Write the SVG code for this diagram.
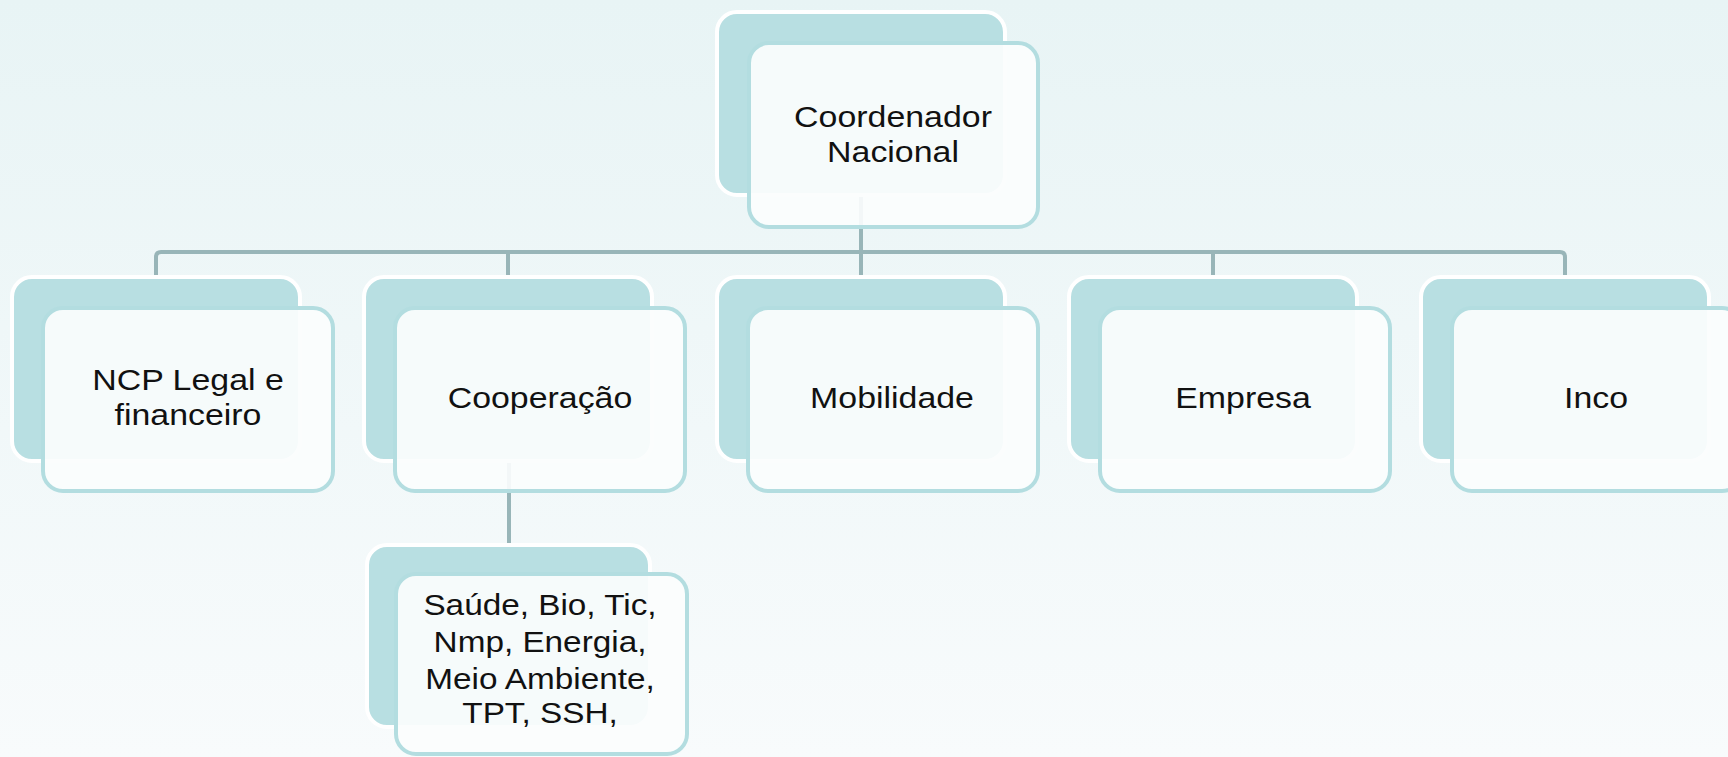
<svg xmlns="http://www.w3.org/2000/svg" width="1728" height="757" viewBox="0 0 1728 757">
<defs>
<linearGradient id="bg" x1="0" y1="0" x2="0" y2="1">
<stop offset="0" stop-color="#e8f4f5"/>
<stop offset="1" stop-color="#f8fbfc"/>
</linearGradient>
<style>
.back{fill:#b8dfe2;stroke:#ffffff;stroke-width:4}
.front{fill:#fbfdfd;fill-opacity:0.92;stroke:#b3dde0;stroke-width:4}
.conn{fill:none;stroke:#98b5b8;stroke-width:4}
.lbl{font-family:"Liberation Sans",Arial,sans-serif;font-size:30px;fill:#111111;text-anchor:middle}
</style>
</defs>
<rect x="0" y="0" width="1728" height="757" fill="url(#bg)"/>
<g id="connectors">
<path class="conn" d="M861,195 V252"/>
<path class="conn" d="M156,277 V257 Q156,252 161,252 H1560 Q1565,252 1565,257 V277"/>
<path class="conn" d="M508,252 V277"/>
<path class="conn" d="M861,252 V277"/>
<path class="conn" d="M1213,252 V277"/>
<path class="conn" d="M509,461 V545"/>
</g>
<g id="coordenador">
<rect class="back" x="717" y="12" width="288" height="183" rx="20"/>
<rect class="front" x="749" y="43" width="289" height="184" rx="20"/>
<text class="lbl" transform="translate(893,127) scale(1.13,1)">Coordenador</text>
<text class="lbl" transform="translate(893,162) scale(1.13,1)">Nacional</text>
</g>
<g id="ncp">
<rect class="back" x="12" y="277" width="288" height="184" rx="20"/>
<rect class="front" x="43" y="308" width="290" height="183" rx="20"/>
<text class="lbl" transform="translate(188,390) scale(1.13,1)">NCP Legal e</text>
<text class="lbl" transform="translate(188,425) scale(1.13,1)">financeiro</text>
</g>
<g id="cooperacao">
<rect class="back" x="364" y="277" width="288" height="184" rx="20"/>
<rect class="front" x="395" y="308" width="290" height="183" rx="20"/>
<text class="lbl" transform="translate(540,408) scale(1.13,1)">Cooperação</text>
</g>
<g id="mobilidade">
<rect class="back" x="717" y="277" width="288" height="184" rx="20"/>
<rect class="front" x="748" y="308" width="290" height="183" rx="20"/>
<text class="lbl" transform="translate(892,408) scale(1.13,1)">Mobilidade</text>
</g>
<g id="empresa">
<rect class="back" x="1069" y="277" width="288" height="184" rx="20"/>
<rect class="front" x="1100" y="308" width="290" height="183" rx="20"/>
<text class="lbl" transform="translate(1243,408) scale(1.13,1)">Empresa</text>
</g>
<g id="inco">
<rect class="back" x="1421" y="277" width="288" height="184" rx="20"/>
<rect class="front" x="1452" y="308" width="290" height="183" rx="20"/>
<text class="lbl" transform="translate(1596,408) scale(1.13,1)">Inco</text>
</g>
<g id="subareas">
<rect class="back" x="367" y="545" width="283" height="182" rx="20"/>
<rect class="front" x="396" y="574" width="291" height="180" rx="20"/>
<text class="lbl" transform="translate(540,615) scale(1.11,1)">Saúde, Bio, Tic,</text>
<text class="lbl" transform="translate(540,652) scale(1.11,1)">Nmp, Energia,</text>
<text class="lbl" transform="translate(540,689) scale(1.11,1)">Meio Ambiente,</text>
<text class="lbl" transform="translate(540,723) scale(1.11,1)">TPT, SSH,</text>
</g>
</svg>
